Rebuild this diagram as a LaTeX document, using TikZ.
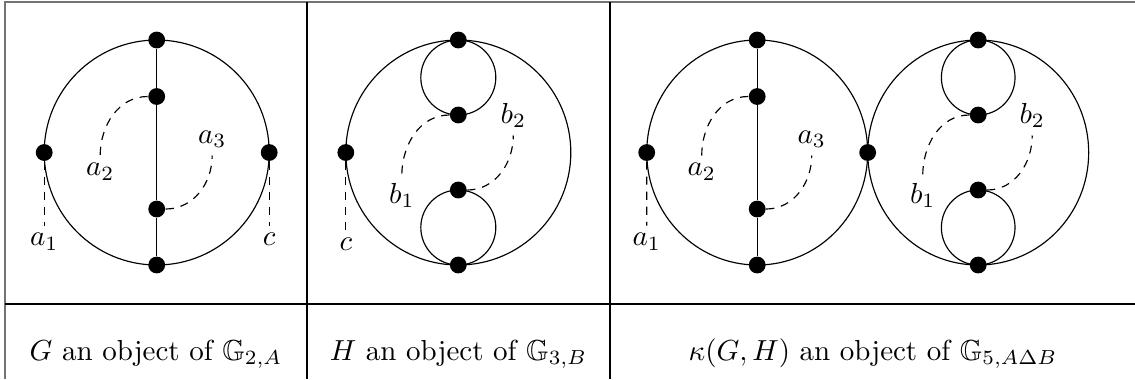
\documentclass[tikz,border=0pt]{standalone}
\usepackage{amssymb}
\usetikzlibrary{positioning}
\tikzset{
  vtx/.style={circle, fill=black, inner sep=0pt, minimum size=5.8pt},
  tie/.style={dash pattern=on 2.8pt off 2.4pt, thin},
  lbl/.style={inner sep=2.5pt},
  outer/.style={draw=black!55, line width=0.6pt},
  cell/.style={inner sep=0pt, anchor=base}
}

\begin{document}
\begin{tikzpicture}[x=0.345pt, y=-0.345pt]
  \useasboundingbox (0,0) rectangle (1135,379);
  % table rules
  \draw[outer] (5,379) -- (5,2) -- (1135,2);
  \draw (307,2) -- (307,379);
  \draw (610,2) -- (610,379);
  \draw (5,304) -- (1135,304);

  % G
  \begin{scope}[shift={(156.7,152.5)}]
    \draw (0,0) circle[radius=112.5];
    \node[vtx] (gt) at (0,-112.5) {};
    \node[vtx] (gu) at (0,-56) {};
    \node[vtx] (gd) at (0,56.5) {};
    \node[vtx] (gb) at (0,112.5) {};
    \node[vtx] (gl) at (-112.5,0) {};
    \node[vtx] (gr) at (112.5,0) {};
    \draw (gt) -- (gu) -- (gd) -- (gb);
    \node[lbl, anchor=north] (ga1) at (-112.5,73) {$a_1$};
    \node[lbl, anchor=north] (ga2) at (-56.5,3) {$a_2$};
    \node[lbl, anchor=south] (ga3) at (55.5,3) {$a_3$};
    \node[lbl, anchor=north] (gc) at (112.5,73) {$c$};
    \draw[tie] (gl) -- (ga1.north);
    \draw[tie] (gr) -- (gc.north);
    \draw[tie] (gu) to[out=180, in=90] (ga2.north);
    \draw[tie] (gd) to[out=0, in=-90] (ga3.south);
  \end{scope}

  % H
  \begin{scope}[shift={(458.3,152.5)}]
    \draw (0,0) circle[radius=112.5];
    \draw (0,-75) circle[radius=37.5];
    \draw (0,75) circle[radius=37.5];
    \node[vtx] (ht) at (0,-112.5) {};
    \node[vtx] (hu) at (0,-37.5) {};
    \node[vtx] (hd) at (0,37.5) {};
    \node[vtx] (hb) at (0,112.5) {};
    \node[vtx] (hl) at (-112.5,0) {};
    \node[lbl, anchor=north] (hc) at (-112.5,78) {$c$};
    \node[lbl, anchor=north] (hb1) at (-56.5,23) {$b_1$};
    \node[lbl, anchor=south] (hb2) at (55,-17) {$b_2$};
    \draw[tie] (hl) -- (hc.north);
    \draw[tie] (hu) to[out=180, in=90] (hb1.north);
    \draw[tie] (hd) to[out=0, in=-90] (hb2.south);
  \end{scope}

  % kappa(G,H), left part
  \begin{scope}[shift={(757.2,152.5)}, xscale=0.982]
    \draw (0,0) circle[radius=112.5];
    \node[vtx] (kt) at (0,-112.5) {};
    \node[vtx] (ku) at (0,-56) {};
    \node[vtx] (kd) at (0,56.5) {};
    \node[vtx] (kb) at (0,112.5) {};
    \node[vtx] (kl) at (-112.5,0) {};
    \node[vtx] (km) at (112.5,0) {};
    \draw (kt) -- (ku) -- (kd) -- (kb);
    \node[lbl, anchor=north] (ka1) at (-112.5,73) {$a_1$};
    \node[lbl, anchor=north] (ka2) at (-56.5,3) {$a_2$};
    \node[lbl, anchor=south] (ka3) at (55.5,3) {$a_3$};
    \draw[tie] (kl) -- (ka1.north);
    \draw[tie] (ku) to[out=180, in=90] (ka2.north);
    \draw[tie] (kd) to[out=0, in=-90] (ka3.south);
  \end{scope}

  % kappa(G,H), right part
  \begin{scope}[shift={(978.2,152.5)}, xscale=0.982]
    \draw (0,0) circle[radius=112.5];
    \draw (0,-75) circle[radius=37.5];
    \draw (0,75) circle[radius=37.5];
    \node[vtx] (kht) at (0,-112.5) {};
    \node[vtx] (khu) at (0,-37.5) {};
    \node[vtx] (khd) at (0,37.5) {};
    \node[vtx] (khb) at (0,112.5) {};
    \node[lbl, anchor=north] (kb1) at (-56.5,23) {$b_1$};
    \node[lbl, anchor=south] (kb2) at (55,-17) {$b_2$};
    \draw[tie] (khu) to[out=180, in=90] (kb1.north);
    \draw[tie] (khd) to[out=0, in=-90] (kb2.south);
  \end{scope}

  % captions
  \node[cell] (capg) at (156,360) {$G$ an object of $\mathbb{G}_{2,A}$};
  \node[cell] (caph) at (458.5,360) {$H$ an object of $\mathbb{G}_{3,B}$};
  \node[cell] (capk) at (873,360) {$\kappa(G,H)$ an object of $\mathbb{G}_{5,A\Delta B}$};
\end{tikzpicture}
\end{document}
